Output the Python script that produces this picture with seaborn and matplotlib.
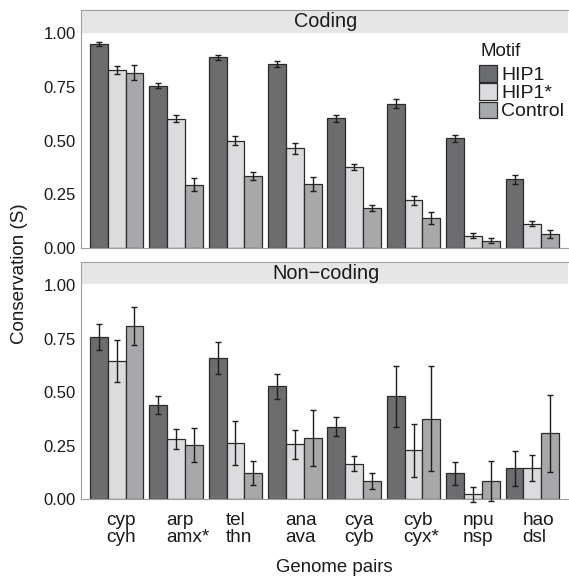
import numpy as np
import pandas as pd
import matplotlib
matplotlib.use("Agg")
import matplotlib.pyplot as plt
import matplotlib.transforms as mtransforms
from matplotlib.patches import Rectangle
import seaborn as sns

# ---------------- data ----------------
pairs = ["cyp\ncyh", "arp\namx*", "tel\nthn", "ana\nava",
         "cya\ncyb", "cyb\ncyx*", "npu\nnsp", "hao\ndsl"]
motifs = ["HIP1", "HIP1*", "Control"]
panels = ["Coding", "Non\u2212coding"]

coding_hip1 = [0.950, 0.755, 0.888, 0.857, 0.603, 0.671, 0.511, 0.319]
coding_hip1s = [0.828, 0.601, 0.500, 0.463, 0.378, 0.221, 0.056, 0.112]
coding_ctrl = [0.816, 0.294, 0.335, 0.297, 0.185, 0.140, 0.034, 0.065]
coding_hip1_err = [0.010, 0.012, 0.012, 0.012, 0.018, 0.021, 0.016, 0.022]
coding_hip1s_err = [0.020, 0.016, 0.023, 0.024, 0.014, 0.022, 0.012, 0.012]
coding_ctrl_err = [0.036, 0.031, 0.019, 0.033, 0.013, 0.028, 0.013, 0.019]

noncoding_hip1 = [0.757, 0.440, 0.659, 0.527, 0.340, 0.480, 0.122, 0.145]
noncoding_hip1s = [0.645, 0.281, 0.265, 0.257, 0.167, 0.229, 0.025, 0.148]
noncoding_ctrl = [0.810, 0.254, 0.122, 0.285, 0.085, 0.376, 0.087, 0.309]
noncoding_hip1_err = [0.060, 0.043, 0.073, 0.059, 0.045, 0.140, 0.054, 0.081]
noncoding_hip1s_err = [0.097, 0.048, 0.103, 0.067, 0.035, 0.123, 0.035, 0.061]
noncoding_ctrl_err = [0.088, 0.078, 0.056, 0.131, 0.037, 0.245, 0.094, 0.180]

colors = {"HIP1": "#6c6d71", "HIP1*": "#dcdcde", "Control": "#a7a8ab"}

yticks = [0.0, 0.25, 0.5, 0.75, 1.0]
ytick_labels = ["0.00", "0.25", "0.50", "0.75", "1.00"]

# ---------------- style ----------------
sns.set_style("white")
plt.rcParams["font.family"] = ["Liberation Sans", "DejaVu Sans"]

W, H = 569, 579
fig = plt.figure(figsize=(W / 100, H / 100), dpi=100)


def fx(px):
    return px / W


def fy(py):
    return 1 - py / H


def make_df(h, hs, c):
    rows = []
    for vals, m in zip([h, hs, c], motifs):
        for p, v in zip(pairs, vals):
            rows.append({"pair": p, "motif": m, "value": v})
    return pd.DataFrame(rows)


panel_data = [
    (make_df(coding_hip1, coding_hip1s, coding_ctrl),
     [coding_hip1_err, coding_hip1s_err, coding_ctrl_err]),
    (make_df(noncoding_hip1, noncoding_hip1s, noncoding_ctrl),
     [noncoding_hip1_err, noncoding_hip1s_err, noncoding_ctrl_err]),
]

# pixel geometry: (panel top, panel bottom, strip top, strip bottom)
geom = [(33.3, 247.8, 9.5, 33.3), (285.0, 499.4, 262.3, 284.3)]
left_px, right_px = 81, 568
grey = "#9e9e9e"
txt = "#1a1a1a"

axes = []
for i, ((df, errs), (ptop, pbot, stop, sbot)) in enumerate(zip(panel_data, geom)):
    ax = fig.add_axes([fx(left_px), fy(pbot), fx(right_px - left_px), (pbot - ptop) / H])
    sns.barplot(data=df, x="pair", y="value", hue="motif", order=pairs,
                hue_order=motifs, palette=colors, errorbar=None, width=0.9,
                edgecolor="#2b2b2b", linewidth=0.9, legend=False, ax=ax)
    bar_conts = list(ax.containers)
    for cont, err in zip(bar_conts, errs):
        xs = [b.get_x() + b.get_width() / 2 for b in cont]
        ys = [b.get_height() for b in cont]
        ax.errorbar(xs, ys, yerr=err, fmt="none", ecolor="#1e1e1e",
                    elinewidth=1.0, capsize=2.5, capthick=1.0, clip_on=False,
                    zorder=5)
    ax.set_xlim(-0.6, len(pairs) - 0.4)
    ax.set_ylim(0, 1.0)
    ax.set_yticks(yticks)
    ax.set_yticklabels(ytick_labels)
    ax.set_xlabel("")
    ax.set_ylabel("")
    ax.tick_params(axis="y", length=2.2, width=0.8, color=grey, pad=1.4,
                   labelsize=12, labelcolor=txt)
    if i == 0:
        ax.tick_params(axis="x", length=0, labelbottom=False)
    else:
        ax.tick_params(axis="x", length=0, pad=9.0, labelsize=13.7,
                       labelcolor=txt)
        offset = mtransforms.ScaledTranslation(-10 / 100, 0, fig.dpi_scale_trans)
        for lab in ax.get_xticklabels():
            lab.set_horizontalalignment("left")
            lab.set_multialignment("left")
            lab.set_linespacing(0.97)
            lab.set_transform(lab.get_transform() + offset)
    ax.spines["top"].set_visible(False)
    ax.spines["right"].set_visible(False)
    for s in ["left", "bottom"]:
        ax.spines[s].set_color(grey)
        ax.spines[s].set_linewidth(0.8)
    axes.append(ax)

    # facet strip
    sax = fig.add_axes([fx(left_px), fy(sbot), fx(right_px - left_px), (sbot - stop) / H])
    sax.set_facecolor("#e6e6e6")
    sax.set_xticks([])
    sax.set_yticks([])
    for s in ["bottom", "right"]:
        sax.spines[s].set_visible(False)
    for s in ["top", "left"]:
        sax.spines[s].set_color(grey)
        sax.spines[s].set_linewidth(0.8)
    base_px = 27.3 if i == 0 else 279.0
    fig.text(fx((left_px + right_px) / 2 + 1.5), fy(base_px), panels[i],
             ha="center", va="baseline", fontsize=14.3, color=txt)

# legend (drawn inside top panel)
fig.text(fx(480), fy(56), "Motif", ha="left", va="baseline",
         fontsize=13.5, color=txt)
key_tops = [65.0, 83.3, 101.6]
baselines = [80.5, 98.5, 115.5]
for m, kt, bl in zip(motifs, key_tops, baselines):
    fig.add_artist(Rectangle((fx(479), fy(kt + 16.5)), fx(18), 16.5 / H,
                             transform=fig.transFigure, facecolor=colors[m],
                             edgecolor="#2b2b2b", linewidth=0.9))
    fig.text(fx(501), fy(bl), m, ha="left", va="baseline", fontsize=14,
             color=txt)

# axis titles
fig.text(fx(334), fy(571.7), "Genome pairs", ha="center", va="baseline",
         fontsize=13.4, color=txt)
fig.text(fx(20.0), fy(274), "Conservation (S)", ha="center", va="center",
         rotation=90, fontsize=13.5, color=txt)

fig.savefig("out.png", dpi=100, facecolor="white", edgecolor="none")
